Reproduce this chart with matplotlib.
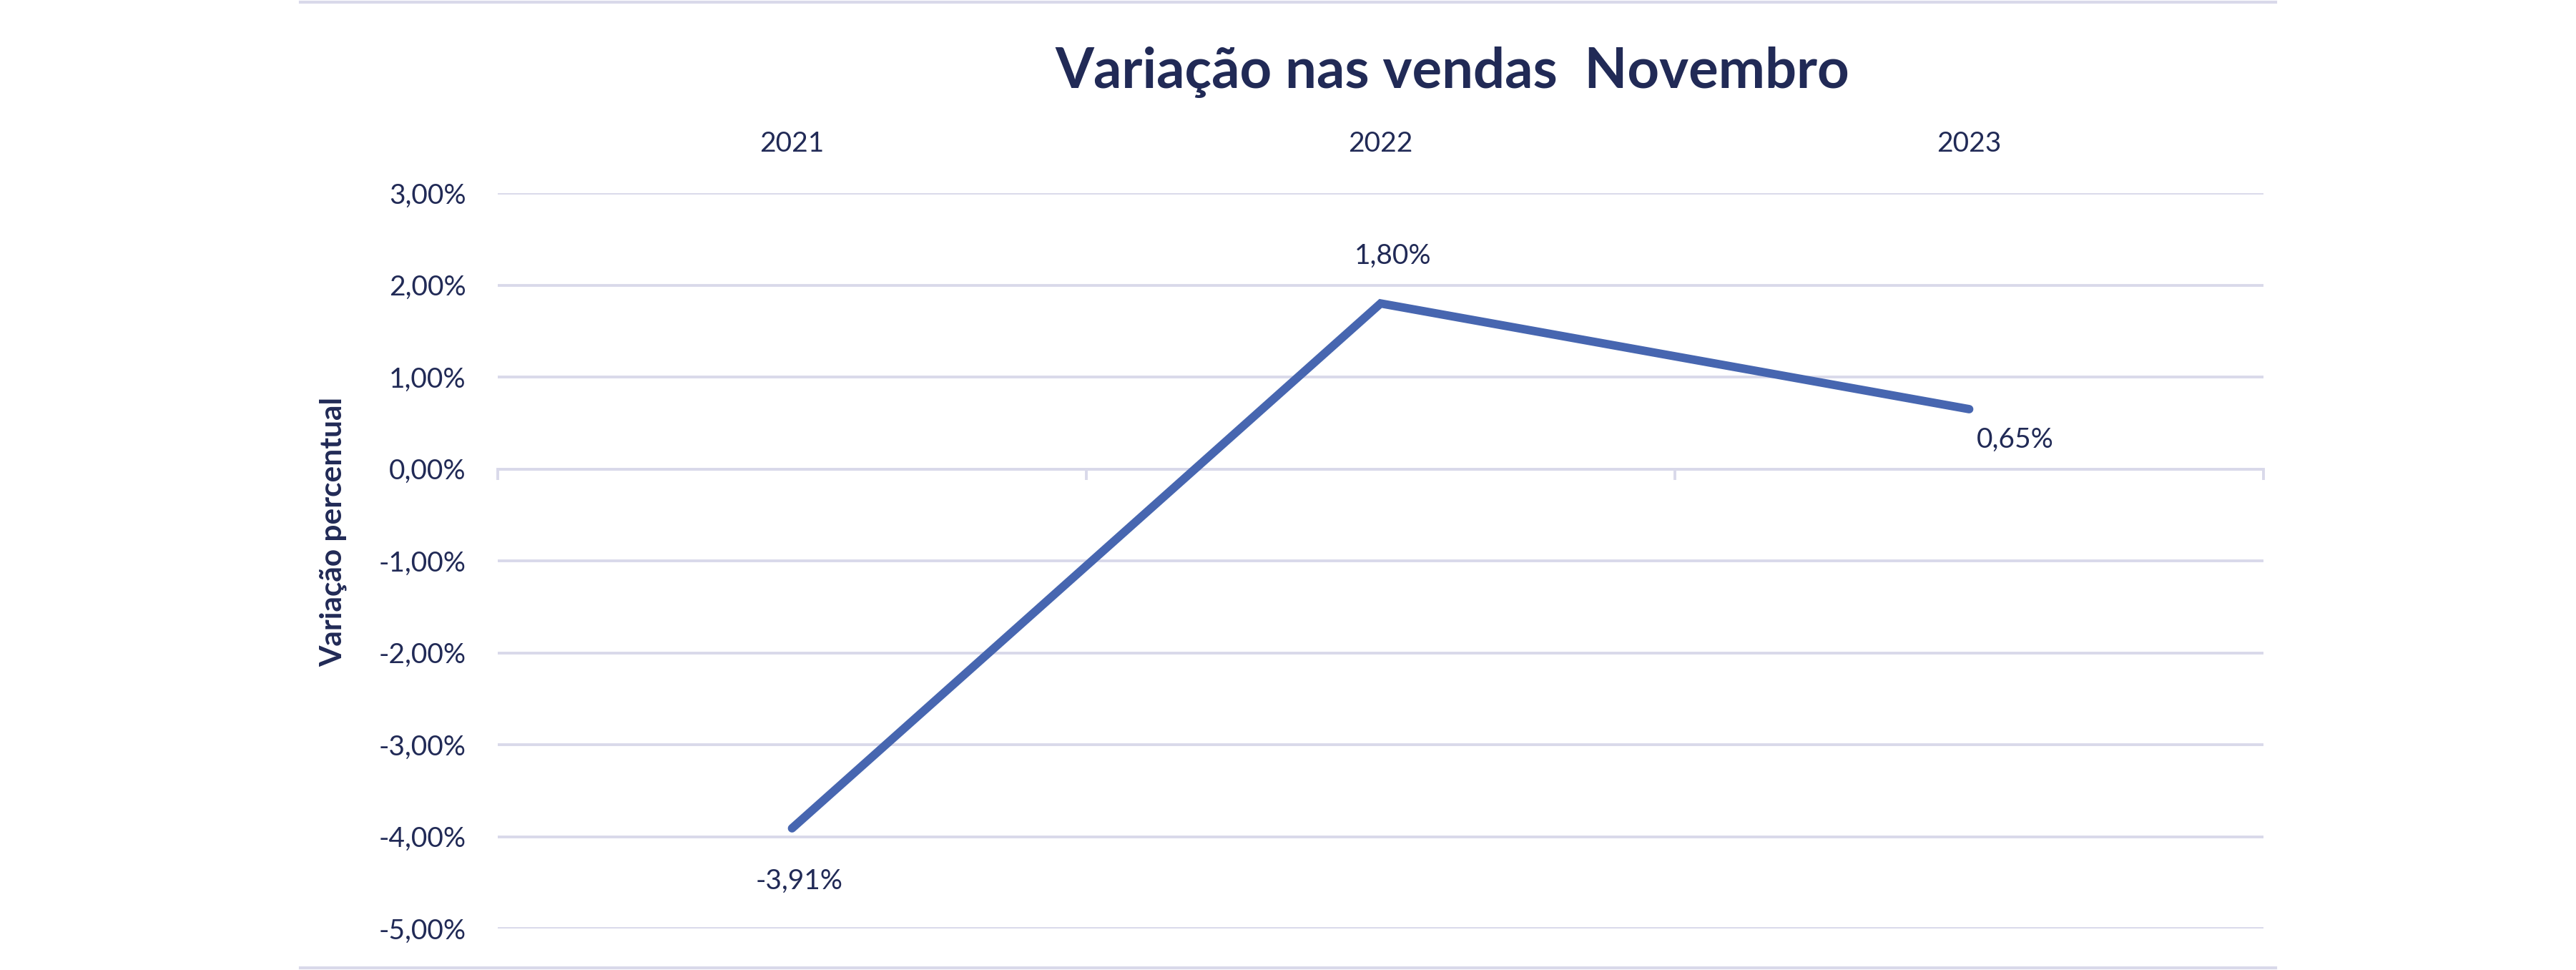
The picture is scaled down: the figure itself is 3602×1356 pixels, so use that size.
import matplotlib.pyplot as plt
from matplotlib.lines import Line2D
from matplotlib.ticker import FixedLocator

# Data
anos = ["2021", "2022", "2023"]
variacao = [-3.91, 1.80, 0.65]  # em %
y_ticks = [3, 2, 1, 0, -1, -2, -3, -4, -5]

# offsets (points) of the data labels relative to each point
label_offsets = [(7, -53), (12, 48), (46, -31)]

text_color = "#212A56"
line_color = "#4766B0"
grid_color = "#D9D9EA"

plt.rcParams['font.family'] = ['Lato', 'DejaVu Sans']

fig = plt.figure(figsize=(36.02, 13.56), dpi=100)
W, H = 3602, 1356
ax = fig.add_axes([696 / W, 1 - 1298 / H, (3165 - 696) / W, (1298 - 270) / H])

x = list(range(len(anos)))
ax.plot(x, variacao, color=line_color, linewidth=8.5, solid_capstyle='round',
        solid_joinstyle='miter', zorder=3)

ax.set_xlim(-0.5, len(anos) - 0.5)
ax.set_ylim(-5, 3)
ax.set_yticks(y_ticks)
ax.set_yticklabels([f"{v:.2f}%".replace(".", ",") for v in y_ticks])
ax.yaxis.grid(True, color=grid_color, linewidth=2.8)
ax.set_axisbelow(True)

# year labels on top
ax.set_xticks(x)
ax.set_xticklabels(anos)
ax.tick_params(axis='x', which='major', top=False, bottom=False,
               labeltop=True, labelbottom=False, pad=33,
               labelsize=28, labelcolor=text_color)
ax.tick_params(axis='y', length=0, pad=32, labelsize=28, labelcolor=text_color)

# horizontal axis at zero with boundary ticks
for s in ['top', 'left', 'right']:
    ax.spines[s].set_visible(False)
ax.spines['bottom'].set_position(('data', 0))
ax.spines['bottom'].set_color(grid_color)
ax.spines['bottom'].set_linewidth(2.8)
ax.xaxis.set_minor_locator(FixedLocator([i - 0.5 for i in range(len(anos) + 1)]))
ax.tick_params(axis='x', which='minor', bottom=True, top=False, direction='out',
               length=11, width=2.8, color=grid_color)

# data labels
for xi, v, off in zip(x, variacao, label_offsets):
    ax.annotate(f"{v:.2f}%".replace(".", ","), (xi, v), xytext=off,
                textcoords='offset points', ha='center', va='center',
                fontsize=28, color=text_color)

# title and y label
fig.text(2031 / W, 1 - 101 / H, "Variação nas vendas  Novembro", ha='center',
         va='center', fontsize=56, fontweight='bold', color=text_color)
fig.text(466 / W, 1 - 744 / H, "Variação percentual", rotation=90, ha='center',
         va='center', fontsize=30.5, fontweight='bold', color=text_color)

# chart frame lines (top and bottom)
for yy in [3, 1353]:
    fig.add_artist(Line2D([420 / W, 3182 / W], [1 - yy / H, 1 - yy / H],
                          color=grid_color, linewidth=3))

plt.savefig("out.png", dpi=100)
